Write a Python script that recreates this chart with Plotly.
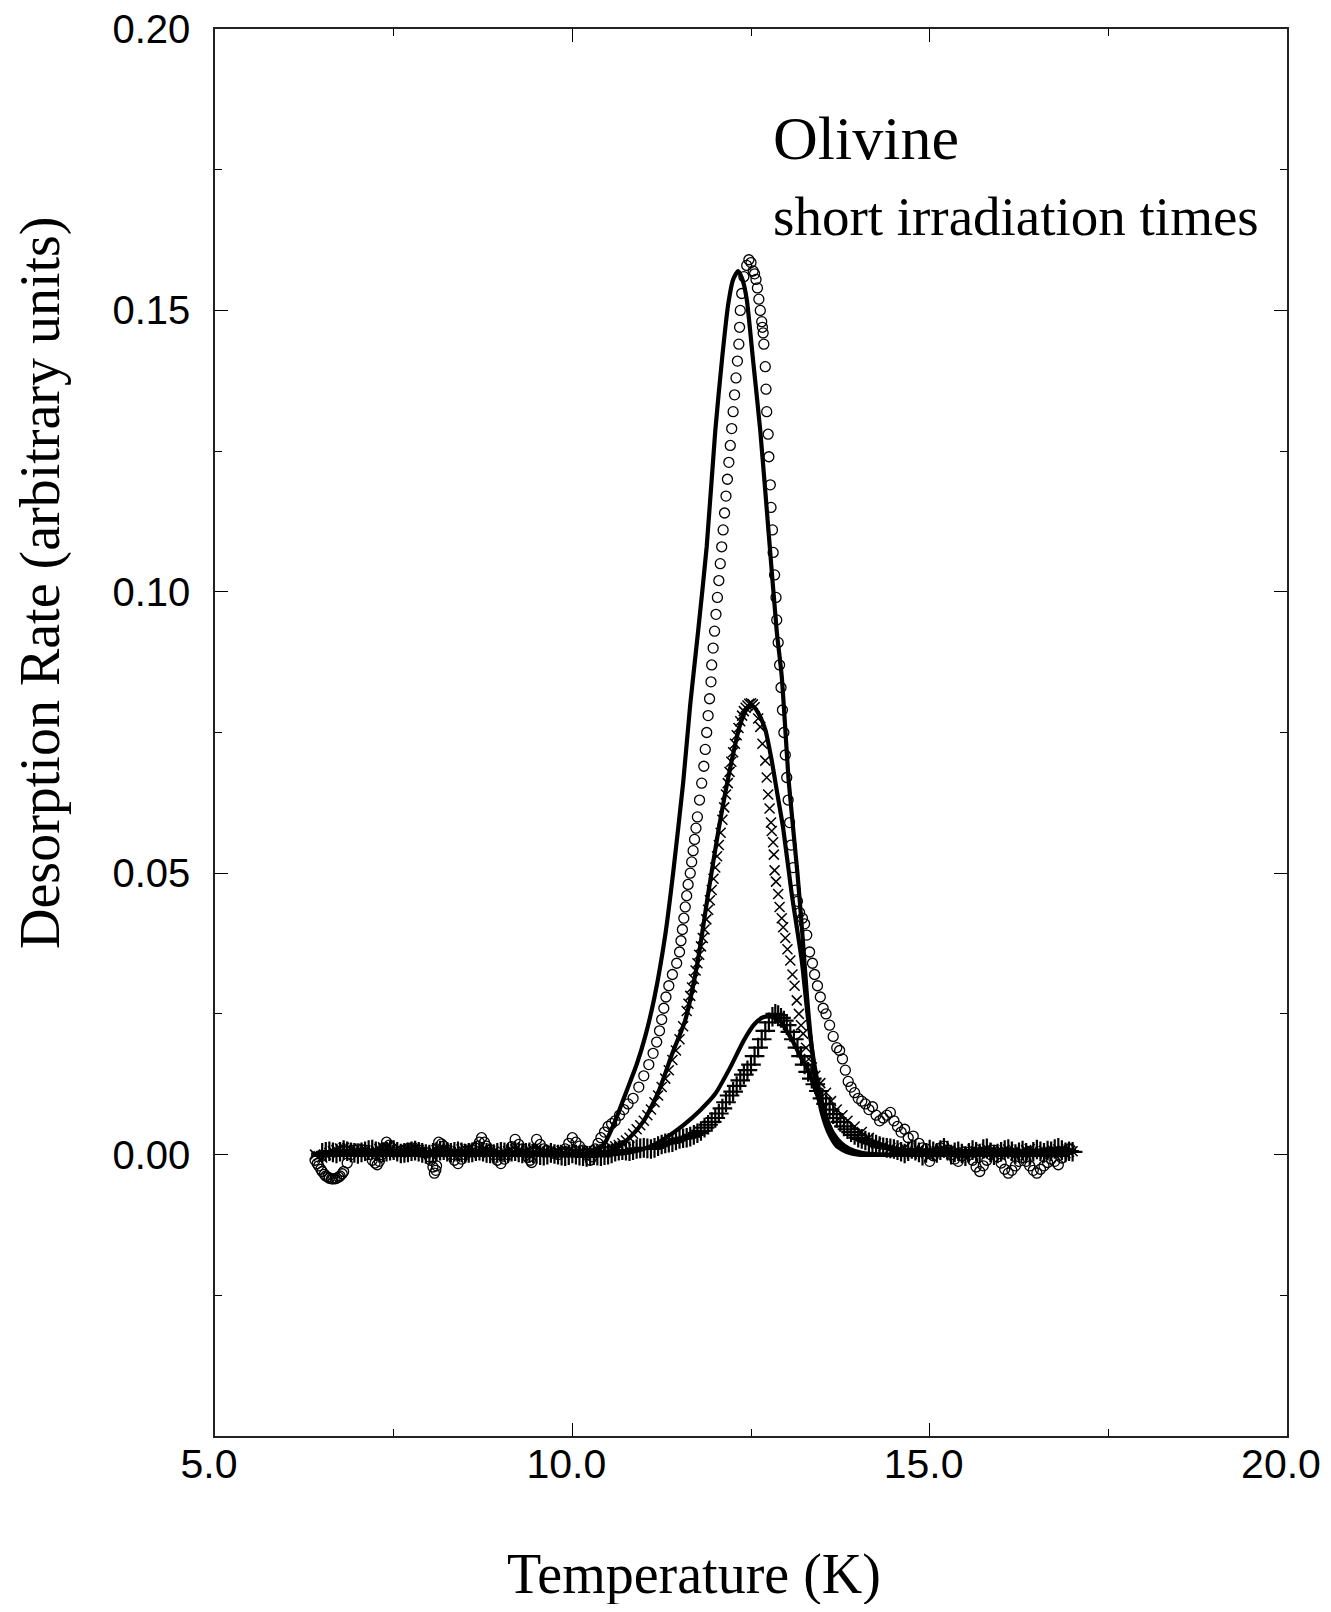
import plotly.graph_objects as go

# ---------------- data ----------------
# Series 1: open circles (largest peak)
circ_T = [6.40, 6.43, 6.45, 6.48, 6.50, 6.53, 6.55, 6.58, 6.60, 6.63, 6.65, 6.68, 6.70, 6.73, 6.75,
          6.78, 6.80, 6.85, 6.90, 6.95, 7.00, 7.05, 7.10, 7.15, 7.20, 7.24, 7.27, 7.30, 7.33, 7.37,
          7.40, 7.44, 7.47, 7.51, 7.55, 7.60, 7.65, 7.70, 7.75, 7.80, 7.85, 7.90, 7.95, 8.00, 8.02,
          8.05, 8.07, 8.09, 8.10, 8.12, 8.13, 8.17, 8.20, 8.25, 8.30, 8.35, 8.40, 8.45, 8.50, 8.55,
          8.60, 8.64, 8.67, 8.70, 8.73, 8.77, 8.80, 8.85, 8.90, 8.95, 9.00, 9.05, 9.10, 9.15, 9.20,
          9.25, 9.30, 9.34, 9.38, 9.41, 9.43, 9.47, 9.50, 9.55, 9.60, 9.65, 9.70, 9.75, 9.80, 9.85,
          9.90, 9.95, 10.00, 10.05, 10.10, 10.15, 10.20, 10.25, 10.28, 10.32, 10.36,
          10.40, 10.45, 10.50, 10.55, 10.60, 10.66, 10.72, 10.78, 10.85, 10.93, 11.00, 11.07, 11.13,
          11.18, 11.22, 11.25, 11.28, 11.31, 11.35, 11.40, 11.46, 11.50, 11.52, 11.54, 11.56, 11.58,
          11.60, 11.62, 11.65, 11.67, 11.69, 11.71, 11.73, 11.75, 11.78, 11.81, 11.84, 11.86, 11.88,
          11.90, 11.92, 11.94, 11.95, 11.97, 11.99, 12.01, 12.03, 12.05, 12.07, 12.09, 12.11, 12.13,
          12.15, 12.17, 12.19, 12.21, 12.23, 12.25, 12.27, 12.29, 12.31, 12.33, 12.34, 12.35, 12.37,
          12.40, 12.44, 12.47,
          12.50, 12.53, 12.55, 12.57, 12.59, 12.61, 12.63, 12.65, 12.66, 12.67, 12.68, 12.70, 12.71,
          12.72, 12.74, 12.75, 12.77, 12.78, 12.80, 12.81, 12.83, 12.85, 12.86, 12.88, 12.90, 12.92,
          12.94, 12.96, 12.98, 13.00, 13.02, 13.04, 13.06, 13.09, 13.12, 13.15, 13.18, 13.22, 13.25,
          13.28, 13.32, 13.36, 13.39, 13.43, 13.47, 13.51, 13.55, 13.60, 13.65, 13.70, 13.74, 13.78,
          13.82, 13.86, 13.90, 13.95, 14.00, 14.05, 14.10, 14.15, 14.20, 14.25, 14.30, 14.35, 14.40,
          14.45, 14.50, 14.55, 14.60, 14.65, 14.70, 14.77, 14.85, 14.90,
          14.95, 15.00, 15.05, 15.10, 15.15, 15.20, 15.25, 15.30, 15.35, 15.40, 15.45, 15.50, 15.55,
          15.60, 15.65, 15.70, 15.75, 15.80, 15.85, 15.90, 15.95, 16.00, 16.05, 16.10, 16.15, 16.20,
          16.25, 16.30, 16.35, 16.40, 16.45, 16.50, 16.55, 16.60, 16.65, 16.70, 16.75, 16.80, 16.85,
          16.90, 16.94, 16.97]
circ_V = [-0.0010, -0.0016, -0.0020, -0.0026, -0.0030, -0.0035, -0.0038, -0.0040, -0.0042, -0.0043,
          -0.0043, -0.0043, -0.0042, -0.0040, -0.0038, -0.0034, -0.0030, -0.0015, 0.0000, 0.0008,
          0.0010, 0.0009, 0.0008, 0.0000, -0.0010, -0.0015, -0.0018, -0.0012, 0.0000, 0.0012,
          0.0022, 0.0017, 0.0012, 0.0008, 0.0005, 0.0006, 0.0008, 0.0010, 0.0012, 0.0010, 0.0008,
          0.0005, 0.0003, -0.0004, -0.0010, -0.0022, -0.0033, -0.0028, -0.0020, 0.0005, 0.0022,
          0.0019, 0.0015, 0.0008, 0.0000, -0.0010, -0.0016, -0.0008, 0.0000, 0.0004, 0.0008, 0.0012,
          0.0015, 0.0022, 0.0030, 0.0022, 0.0015, 0.0008, 0.0000, -0.0010, -0.0016, -0.0008, 0.0000,
          0.0014, 0.0027, 0.0018, 0.0010, 0.0003, -0.0005, -0.0010, -0.0014, 0.0008, 0.0027, 0.0018,
          0.0010, 0.0007, 0.0005, 0.0002, 0.0000, 0.0005, 0.0010, 0.0020, 0.0030, 0.0022, 0.0015,
          0.0008, 0.0000, -0.0010, -0.0004, 0.0010, 0.0020,
          0.003, 0.004, 0.005, 0.0055, 0.006, 0.007, 0.008, 0.009, 0.010, 0.012, 0.014, 0.016, 0.018,
          0.020, 0.022, 0.024, 0.026, 0.028, 0.030, 0.032, 0.034, 0.036, 0.038, 0.040, 0.042, 0.044,
          0.046, 0.048, 0.050, 0.052, 0.054, 0.056, 0.058, 0.060, 0.063, 0.066, 0.069, 0.072, 0.075,
          0.078, 0.081, 0.084, 0.087, 0.090, 0.093, 0.096, 0.099, 0.102, 0.105, 0.108, 0.111, 0.114,
          0.117, 0.120, 0.123, 0.126, 0.129, 0.132, 0.135, 0.138, 0.141, 0.144, 0.147, 0.150, 0.153,
          0.156, 0.158, 0.159,
          0.1585, 0.157, 0.1565, 0.1555, 0.154, 0.152, 0.150, 0.148, 0.147, 0.146, 0.144, 0.140, 0.136,
          0.132, 0.128, 0.124, 0.119, 0.115, 0.111, 0.107, 0.103, 0.099, 0.095, 0.091, 0.087, 0.083,
          0.079, 0.075, 0.071, 0.067, 0.063, 0.059, 0.055, 0.051, 0.047, 0.045, 0.043, 0.042, 0.041,
          0.039, 0.036, 0.034, 0.032, 0.030, 0.028, 0.026, 0.025, 0.023, 0.021, 0.019, 0.0185, 0.017,
          0.015, 0.013, 0.012, 0.011, 0.010, 0.0095, 0.009, 0.008, 0.0085, 0.007, 0.006, 0.0065, 0.007,
          0.0075, 0.006, 0.005, 0.004, 0.0045, 0.003, 0.0033, 0.002, 0.0012,
          0.0010, -0.0012, -0.0002, 0.0005, 0.0012, 0.0015, 0.0008, 0.0000, -0.0008, -0.0012, -0.0002,
          0.0005, 0.0000, -0.0010, -0.0022, -0.0030, -0.0020, -0.0010, 0.0000, 0.0008, -0.0004,
          -0.0015, -0.0026, -0.0033, -0.0028, -0.0020, -0.0012, -0.0005, -0.0012, -0.0020, -0.0028,
          -0.0033, -0.0026, -0.0020, -0.0014, -0.0008, -0.0012, -0.0018, -0.0006, 0.0005, 0.0010,
          0.0010]

# Series 2: crosses (middle peak)
xmk_T = [6.40, 6.45, 6.50, 6.55, 6.60, 6.65, 6.70, 6.75, 6.80, 6.85, 6.90, 6.95, 7.00, 7.05, 7.10,
         7.15, 7.20, 7.25, 7.30, 7.35, 7.40, 7.45, 7.50, 7.55, 7.60, 7.65, 7.70, 7.75, 7.80, 7.85,
         7.90, 7.95, 8.00, 8.05, 8.10, 8.15, 8.20, 8.25, 8.30, 8.35, 8.40, 8.45, 8.50, 8.55, 8.60,
         8.65, 8.70, 8.75, 8.80, 8.85, 8.90, 8.95, 9.00, 9.05, 9.10, 9.15, 9.20, 9.25, 9.30, 9.35,
         9.40, 9.45, 9.50, 9.55, 9.60, 9.65, 9.70, 9.75, 9.80, 9.85, 9.90, 9.95, 10.00, 10.05,
         10.10, 10.15, 10.20, 10.25, 10.30, 10.35, 10.40, 10.45,
         10.50, 10.55, 10.60, 10.65, 10.70, 10.75, 10.80, 10.85, 10.90, 10.95, 11.00, 11.05, 11.10,
         11.15, 11.20, 11.25, 11.30, 11.35, 11.40, 11.45, 11.50, 11.55, 11.60, 11.625, 11.65,
         11.675, 11.70, 11.725, 11.75, 11.775, 11.80, 11.825, 11.85, 11.875, 11.90, 11.925, 11.95,
         11.975, 12.00, 12.025, 12.05, 12.075, 12.10, 12.125, 12.15, 12.175, 12.20, 12.225, 12.25,
         12.275, 12.30, 12.325, 12.35, 12.375, 12.40, 12.425, 12.45, 12.475, 12.50, 12.525,
         12.55, 12.60, 12.63, 12.66, 12.70, 12.72, 12.74, 12.76, 12.78, 12.79, 12.81, 12.82, 12.83,
         12.85, 12.88, 12.90, 12.93, 12.95, 12.98, 13.01, 13.05, 13.08, 13.11, 13.14, 13.17, 13.20,
         13.23, 13.27, 13.31, 13.35, 13.40, 13.47, 13.55, 13.62, 13.70, 13.78, 13.85, 13.95, 14.05,
         14.15, 14.25, 14.35,
         14.45, 14.50, 14.55, 14.60, 14.65, 14.70, 14.75, 14.80, 14.85, 14.90, 14.95, 15.00, 15.05,
         15.10, 15.15, 15.20, 15.25, 15.30, 15.35, 15.40, 15.45, 15.50, 15.55, 15.60, 15.65, 15.70,
         15.75, 15.80, 15.85, 15.90, 15.95, 16.00, 16.05, 16.10, 16.15, 16.20, 16.25, 16.30, 16.35,
         16.40, 16.45, 16.50, 16.55, 16.60, 16.65, 16.70, 16.75, 16.80, 16.85, 16.90, 16.95, 17.00]
xmk_V = [0.0000, -0.0003, -0.0005, 0.0000, 0.0003, 0.0006, 0.0008, 0.0011, 0.0012, 0.0011, 0.0010,
         0.0007, 0.0005, 0.0007, 0.0008, 0.0005, 0.0003, 0.0007, 0.0010, 0.0013, 0.0012, 0.0009,
         0.0006, 0.0004, 0.0004, 0.0007, 0.0009, 0.0012, 0.0011, 0.0008, 0.0005, 0.0003, 0.0002,
         0.0005, 0.0008, 0.0011, 0.0010, 0.0007, 0.0004, 0.0004, 0.0006, 0.0009, 0.0011, 0.0010,
         0.0007, 0.0005, 0.0003, 0.0005, 0.0008, 0.0007, 0.0005, 0.0003, 0.0002, 0.0004, 0.0006,
         0.0008, 0.0009, 0.0007, 0.0004, 0.0005, 0.0007, 0.0009, 0.0010, 0.0008, 0.0005, 0.0004,
         0.0003, 0.0004, 0.0006, 0.0007, 0.0008, 0.0006, 0.0004, 0.0004, 0.0005, 0.0006, 0.0007,
         0.0006, 0.0006, 0.0008, 0.0009, 0.0010,
         0.0010, 0.0012, 0.0015, 0.0017, 0.0020, 0.0025, 0.0030, 0.0037, 0.0045, 0.0052, 0.0060,
         0.0070, 0.0080, 0.0093, 0.0105, 0.0120, 0.0135, 0.0150, 0.0168, 0.0185, 0.0205, 0.0228,
         0.0255, 0.0268, 0.0282, 0.0297, 0.0312, 0.0327, 0.0340, 0.0355, 0.0370, 0.0385, 0.0400,
         0.0418, 0.0435, 0.0452, 0.0470, 0.0490, 0.0510, 0.0530, 0.0550, 0.0572, 0.0595, 0.0617,
         0.0640, 0.0660, 0.0680, 0.0698, 0.0715, 0.0730, 0.0745, 0.0758, 0.0770, 0.0780, 0.0788,
         0.0794, 0.0798, 0.0801, 0.0802, 0.0800,
         0.0795, 0.0775, 0.0760, 0.0730, 0.0700, 0.0670, 0.0640, 0.0615, 0.0590, 0.0575, 0.0555,
         0.0533, 0.0505, 0.0485, 0.0463, 0.0440, 0.0420, 0.0404, 0.0385, 0.0365, 0.0345, 0.0320,
         0.0300, 0.0274, 0.0250, 0.0230, 0.0215, 0.0190, 0.0170, 0.0155, 0.0140, 0.0127, 0.0110,
         0.0095, 0.0080, 0.0070, 0.0060, 0.0050, 0.0040, 0.0030, 0.0020, 0.0015,
         0.0012, 0.0010, 0.0005, 0.0008, 0.0012, 0.0006, 0.0002, 0.0005, 0.0008, 0.0006, 0.0003,
         -0.0003, 0.0002, 0.0006, 0.0009, 0.0010, 0.0006, 0.0001, 0.0004, 0.0007, 0.0003, -0.0002,
         0.0004, 0.0009, 0.0006, 0.0003, 0.0008, 0.0011, 0.0005, 0.0000, 0.0003, 0.0006, 0.0008,
         0.0009, 0.0004, -0.0001, 0.0002, 0.0005, 0.0008, 0.0010, 0.0006, 0.0002, 0.0005, 0.0007,
         0.0005, 0.0004, 0.0007, 0.0009, 0.0006, 0.0003, 0.0005, 0.0006]

# Series 3: plus signs (smallest peak)
pls_T = [6.50, 6.55, 6.60, 6.65, 6.70, 6.75, 6.80, 6.85, 6.90, 6.95, 7.00, 7.05, 7.10, 7.15, 7.20,
         7.25, 7.30, 7.35, 7.40, 7.45, 7.50, 7.55, 7.60, 7.65, 7.70, 7.75, 7.80, 7.85, 7.90, 7.95,
         8.00, 8.05, 8.10, 8.15, 8.20, 8.25, 8.30, 8.35, 8.40, 8.45, 8.50, 8.55, 8.60, 8.65, 8.70,
         8.75, 8.80, 8.85, 8.90, 8.95, 9.00, 9.05, 9.10, 9.15, 9.20, 9.25, 9.30, 9.35, 9.40, 9.45,
         9.50, 9.55, 9.60, 9.65, 9.70, 9.75, 9.80, 9.85, 9.90, 9.95, 10.00, 10.05, 10.10, 10.15,
         10.20, 10.25, 10.30, 10.35, 10.40, 10.45, 10.50, 10.55,
         10.60, 10.65, 10.70, 10.75, 10.80, 10.85, 10.90, 10.95, 11.00, 11.05, 11.10, 11.15, 11.20,
         11.25, 11.30, 11.35, 11.40, 11.45, 11.50, 11.55, 11.60, 11.65, 11.70, 11.75,
         11.80, 11.85, 11.90, 11.95, 12.00, 12.05, 12.10, 12.15, 12.20, 12.25, 12.30, 12.35, 12.40,
         12.45, 12.50, 12.55, 12.60, 12.65, 12.70, 12.75, 12.80, 12.84, 12.88, 12.92, 12.96, 13.00,
         13.05, 13.10, 13.15, 13.20, 13.25, 13.30, 13.35, 13.40, 13.45, 13.50, 13.55, 13.60, 13.65,
         13.70, 13.75, 13.80, 13.85, 13.90, 13.95, 14.00, 14.05, 14.10, 14.15, 14.20, 14.25, 14.30,
         14.35, 14.40, 14.45, 14.50,
         14.55, 14.60, 14.65, 14.70, 14.75, 14.80, 14.85, 14.90, 14.95, 15.00, 15.05, 15.10, 15.15,
         15.20, 15.25, 15.30, 15.35, 15.40, 15.45, 15.50, 15.55, 15.60, 15.65, 15.70, 15.75, 15.80,
         15.85, 15.90, 15.95, 16.00, 16.05, 16.10, 16.15, 16.20, 16.25, 16.30, 16.35, 16.40, 16.45,
         16.50, 16.55, 16.60, 16.65, 16.70, 16.75, 16.80, 16.85, 16.90, 16.95, 17.00]
pls_V = [0.0003, 0.0005, 0.0006, 0.0004, 0.0002, 0.0005, 0.0008, 0.0006, 0.0004, 0.0003, 0.0001,
         0.0004, 0.0006, 0.0008, 0.0009, 0.0006, 0.0003, 0.0004, 0.0005, 0.0007, 0.0008, 0.0005,
         0.0002, 0.0003, 0.0004, 0.0006, 0.0007, 0.0005, 0.0003, 0.0001, 0.0000, 0.0003, 0.0005,
         0.0007, 0.0008, 0.0005, 0.0003, 0.0005, 0.0006, 0.0004, 0.0002, 0.0003, 0.0004, 0.0006,
         0.0007, 0.0005, 0.0003, 0.0002, 0.0001, 0.0003, 0.0005, 0.0004, 0.0003, 0.0005, 0.0006,
         0.0004, 0.0002, 0.0003, 0.0004, 0.0002, 0.0001, -0.0001, -0.0002, 0.0000, 0.0003, 0.0001,
         0.0000, -0.0002, -0.0003, -0.0001, 0.0002, 0.0000, -0.0002, -0.0003, -0.0004, -0.0002,
         -0.0001, -0.0002, -0.0003, -0.0001, 0.0000, 0.0002,
         0.0005, 0.0007, 0.0008, 0.0007, 0.0006, 0.0008, 0.0010, 0.0011, 0.0012, 0.0011, 0.0010,
         0.0012, 0.0015, 0.0018, 0.0020, 0.0021, 0.0022, 0.0025, 0.0028, 0.0029, 0.0030, 0.0032,
         0.0035, 0.0038,
         0.0042, 0.0048, 0.0053, 0.0058, 0.0065, 0.0073, 0.0082, 0.0093, 0.0105, 0.0112, 0.0122,
         0.0132, 0.0142, 0.0150, 0.0160, 0.0175, 0.0190, 0.0205, 0.0220, 0.0235, 0.0245, 0.0250,
         0.0248, 0.0243, 0.0238, 0.0230, 0.0218, 0.0205, 0.0190, 0.0175, 0.0160, 0.0147, 0.0135,
         0.0125, 0.0113, 0.0100, 0.0090, 0.0080, 0.0072, 0.0065, 0.0058, 0.0050, 0.0045, 0.0040,
         0.0035, 0.0030, 0.0028, 0.0025, 0.0022, 0.0020, 0.0018, 0.0015, 0.0013, 0.0012, 0.0011,
         0.0010,
         0.0008, 0.0005, 0.0002, 0.0006, 0.0010, 0.0007, 0.0004, -0.0002, 0.0003, 0.0009, 0.0006,
         0.0003, 0.0008, 0.0012, 0.0007, 0.0000, 0.0004, 0.0006, 0.0002, -0.0003, 0.0003, 0.0008,
         0.0005, 0.0002, 0.0010, 0.0011, 0.0004, -0.0001, 0.0002, 0.0005, 0.0008, 0.0010, 0.0006,
         0.0001, 0.0004, 0.0007, 0.0003, -0.0002, 0.0005, 0.0009, 0.0006, 0.0003, 0.0007, 0.0006,
         0.0010, 0.0012, 0.0008, 0.0004, 0.0006, 0.0005]

# Model fits (solid lines)
fit1_T = [6.35, 8.00, 10.00, 10.30, 10.45, 10.60, 10.75, 10.90, 11.02, 11.15, 11.30, 11.41, 11.55,
          11.65, 11.76, 11.88, 12.00, 12.10, 12.18, 12.25, 12.32, 12.38, 12.44, 12.53, 12.63,
          12.75, 12.86, 12.93, 13.03, 13.15, 13.22, 13.28, 13.35, 13.42, 13.50, 13.60, 13.70,
          13.85, 14.00, 15.00, 16.95]
fit1_V = [0.0, 0.0, 0.0, 0.0005, 0.002, 0.006, 0.011, 0.016, 0.021, 0.028, 0.039, 0.050, 0.066,
          0.080, 0.093, 0.108, 0.1286, 0.142, 0.151, 0.1555, 0.157, 0.1555, 0.152, 0.141, 0.1286,
          0.110, 0.093, 0.085, 0.066, 0.050, 0.039, 0.0287, 0.019, 0.012, 0.007, 0.0035, 0.0015,
          0.0004, 0.0, 0.0, 0.0]

fit2_T = [6.35, 8.00, 10.00, 10.40, 10.60, 10.80, 11.00, 11.20, 11.40, 11.58, 11.75, 11.90, 12.05,
          12.23, 12.35, 12.45, 12.52, 12.60, 12.70, 12.79, 12.87, 12.95, 13.07, 13.21, 13.30,
          13.40, 13.50, 13.60, 13.70, 13.80, 13.95, 14.20, 15.00, 16.95]
fit2_V = [0.0, 0.0, 0.0, 0.0, 0.001, 0.003, 0.006, 0.011, 0.018, 0.0239, 0.034, 0.0463, 0.058,
          0.070, 0.0765, 0.0793, 0.0797, 0.0785, 0.0755, 0.070, 0.064, 0.058, 0.0463, 0.0345,
          0.0239, 0.015, 0.009, 0.005, 0.0025, 0.0012, 0.0003, 0.0, 0.0, 0.0]

fit3_T = [6.35, 8.00, 10.00, 10.50, 10.85, 11.10, 11.32, 11.55, 11.79, 12.00, 12.21, 12.40, 12.55,
          12.67, 12.78, 12.90, 13.00, 13.10, 13.20, 13.28, 13.40, 13.50, 13.65, 13.75, 13.88,
          14.05, 14.30, 15.00, 16.95]
fit3_V = [0.0, 0.0, 0.0, 0.0, 0.0005, 0.0015, 0.0031, 0.0052, 0.0079, 0.0108, 0.0155, 0.0203,
          0.0232, 0.0244, 0.0245, 0.0239, 0.0220, 0.0198, 0.0172, 0.0155, 0.0115, 0.0080, 0.0038,
          0.0022, 0.0010, 0.0003, 0.0, 0.0, 0.0]

x_ticks = [5.0, 10.0, 15.0, 20.0]
y_ticks = [0.00, 0.05, 0.10, 0.15, 0.20]

# ---------------- figure ----------------
fig = go.Figure()

fig.add_trace(go.Scatter(x=circ_T, y=circ_V, mode="markers",
                         marker=dict(symbol="circle-open", size=10, color="black",
                                     line=dict(width=1.3, color="black"))))
fig.add_trace(go.Scatter(x=xmk_T, y=xmk_V, mode="markers",
                         marker=dict(symbol="x-thin-open", size=10, color="black",
                                     line=dict(width=1.5, color="black"))))
fig.add_trace(go.Scatter(x=pls_T, y=pls_V, mode="markers",
                         marker=dict(symbol="cross-thin-open", size=14, color="black",
                                     line=dict(width=2.2, color="black"))))

for tx, vy in [(fit1_T, fit1_V), (fit2_T, fit2_V), (fit3_T, fit3_V)]:
    fig.add_trace(go.Scatter(x=tx, y=vy, mode="lines",
                             line=dict(color="black", width=4.2, shape="spline", smoothing=0.6)))

axis_common = dict(
    showgrid=False, zeroline=False, showline=True, linecolor="#222", linewidth=1.5,
    mirror="ticks", ticks="inside", ticklen=13, tickwidth=1.2, tickcolor="black",
    automargin=False, ticklabeloverflow="allow",
)

fig.update_xaxes(range=[5, 20], tickmode="array", tickvals=x_ticks,
                 ticktext=[f"{v:.1f}" for v in x_ticks], ticklabelstandoff=-9,
                 ticklabelshift=-6,
                 tickfont=dict(family="Liberation Sans, Arial, sans-serif", size=41, color="black"),
                 minor=dict(tickmode="linear", tick0=5, dtick=2.5, ticks="inside",
                            ticklen=7, tickwidth=1, tickcolor="black"),
                 **axis_common)
fig.update_yaxes(range=[-0.05, 0.20], tickmode="array", tickvals=y_ticks,
                 ticktext=[f"{v:.2f}" for v in y_ticks], ticklabelstandoff=15,
                 tickfont=dict(family="Liberation Sans, Arial, sans-serif", size=40, color="black"),
                 minor=dict(tickmode="linear", tick0=0, dtick=0.025, ticks="inside",
                            ticklen=7, tickwidth=1, tickcolor="black"),
                 **axis_common)

serif = "Liberation Serif, Times New Roman, serif"
fig.add_annotation(text="Desorption Rate (arbitrary units)", xref="paper", yref="paper",
                   x=-0.1623, y=0.6063, textangle=-90, showarrow=False,
                   xanchor="center", yanchor="middle",
                   font=dict(family=serif, size=56, color="black"))
fig.add_annotation(text="Temperature (K)", xref="paper", yref="paper",
                   x=0.4468, y=-0.0985, showarrow=False, xanchor="center", yanchor="middle",
                   font=dict(family=serif, size=56, color="black"))
fig.add_annotation(text="Olivine", xref="paper", yref="paper",
                   x=0.5187, y=0.9225, showarrow=False, xanchor="left", yanchor="middle",
                   font=dict(family=serif, size=62, color="black"))
fig.add_annotation(text="short irradiation times", xref="paper", yref="paper",
                   x=0.5187, y=0.8670, showarrow=False, xanchor="left", yanchor="middle",
                   font=dict(family=serif, size=55, color="black"))

# the page adds an 8px body margin, so the figure is sized/offset to compensate
fig.update_layout(width=1315, height=1596, margin=dict(l=207, r=36, t=21, b=168),
                  plot_bgcolor="white", paper_bgcolor="white", showlegend=False)

fig.write_html("out.html")
